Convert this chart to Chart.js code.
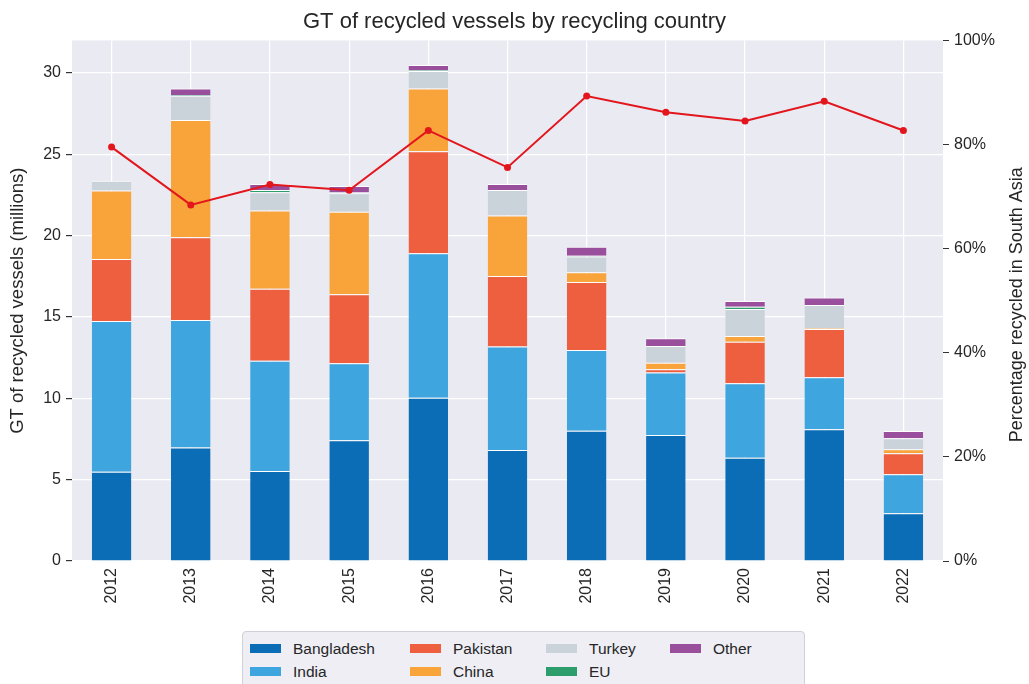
<!DOCTYPE html>
<html>
<head>
<meta charset="utf-8">
<script src="https://cdn.jsdelivr.net/npm/chart.js@4.4.1/dist/chart.umd.min.js"></script>
<style>
  body { margin: 0; background: #fff; font-family: "Liberation Sans", Arial, sans-serif; }
  #wrap { position: relative; width: 1029px; height: 684px; overflow: hidden; }
  #legend {
    position: absolute; left: 242px; top: 631px; width: 563px; height: 62px;
    background: #eeeef4; border: 1px solid #d0d0d8; border-radius: 4px;
    display: grid; grid-template-rows: 23px 23px; grid-auto-flow: column;
    grid-template-columns: 160px 136px 124px 120px; padding: 5px 0 0 7px; box-sizing: border-box;
  }
  .item { display: flex; align-items: center; font-size: 15.5px; color: #262626; }
  .sw { width: 31px; height: 9px; margin-right: 12px; }
</style>
</head>
<body>
<div id="wrap">
  <canvas id="chart" width="1029" height="684"></canvas>
  <div id="legend"></div>
</div>
<script>
const years = ['2012', '2013', '2014', '2015', '2016', '2017', '2018', '2019', '2020', '2021', '2022'];

// GT recycled, millions
const bangladesh = [5.49, 6.97, 5.53, 7.42, 10.04, 6.82, 8.01, 7.75, 6.35, 8.10, 2.93];
const india      = [9.26, 7.84, 6.78, 4.73, 8.87, 6.36, 4.96, 3.83, 4.57, 3.19, 2.40];
const pakistan   = [3.81, 5.09, 4.43, 4.24, 6.28, 4.34, 4.18, 0.20, 2.56, 2.97, 1.29];
const china      = [4.21, 7.21, 4.80, 5.08, 3.85, 3.71, 0.60, 0.41, 0.35, 0.05, 0.25];
const turkey     = [0.61, 1.49, 1.12, 1.13, 1.08, 1.58, 0.96, 1.03, 1.66, 1.43, 0.67];
const eu         = [0.00, 0.05, 0.14, 0.05, 0.05, 0.00, 0.05, 0.00, 0.14, 0.00, 0.00];
const other      = [0.00, 0.40, 0.37, 0.40, 0.32, 0.36, 0.56, 0.47, 0.35, 0.45, 0.45];

// share recycled in South Asia, %
const southAsiaPct = [79.5, 68.4, 72.3, 71.2, 82.7, 75.6, 89.3, 86.2, 84.5, 88.3, 82.7];

const leftTicks = [0, 5, 10, 15, 20, 25, 30];

const series = [
  { label: 'Bangladesh', data: bangladesh, color: '#0a6db5' },
  { label: 'India', data: india, color: '#3fa5de' },
  { label: 'Pakistan', data: pakistan, color: '#ee5f40' },
  { label: 'China', data: china, color: '#f9a43a' },
  { label: 'Turkey', data: turkey, color: '#cbd3da' },
  { label: 'EU', data: eu, color: '#2e9d6c' },
  { label: 'Other', data: other, color: '#9a4f9c' }
];

const textColor = '#262626';
const fontFamily = '"Liberation Sans", Arial, sans-serif';

const barSets = series.map(s => ({
  type: 'bar',
  label: s.label,
  data: s.data,
  backgroundColor: s.color,
  borderColor: '#ffffff',
  borderWidth: { top: 1, bottom: 0, left: 0, right: 0 },
  borderSkipped: false,
  barPercentage: 0.5,
  categoryPercentage: 1.0,
  yAxisID: 'y',
  order: 1
}));

const lineSet = {
  type: 'line',
  label: 'South Asia %',
  data: southAsiaPct,
  borderColor: '#e2161c',
  backgroundColor: '#e2161c',
  borderWidth: 2,
  pointRadius: 3.5,
  pointBorderWidth: 0,
  tension: 0,
  yAxisID: 'y2',
  order: 0
};

// plot background + right axis title drawn the matplotlib way (bottom to top)
const plotBg = {
  id: 'plotBg',
  beforeDraw(chart) {
    const { ctx, chartArea: a } = chart;
    ctx.save();
    ctx.fillStyle = '#eaeaf2';
    ctx.fillRect(a.left, a.top, a.right - a.left, a.bottom - a.top);
    ctx.restore();
  },
  afterDraw(chart) {
    const { ctx, chartArea: a } = chart;
    ctx.save();
    ctx.translate(1017, (a.top + a.bottom) / 2 + 4);
    ctx.rotate(-Math.PI / 2);
    ctx.font = '18px ' + fontFamily;
    ctx.fillStyle = textColor;
    ctx.textAlign = 'center';
    ctx.textBaseline = 'middle';
    ctx.fillText('Percentage recycled in South Asia', 0, 0);
    ctx.restore();
  }
};

new Chart(document.getElementById('chart'), {
  data: { labels: years, datasets: [...barSets, lineSet] },
  plugins: [plotBg],
  options: {
    responsive: false,
    animation: false,
    layout: { padding: { bottom: 63 } },
    plugins: {
      legend: { display: false },
      tooltip: { enabled: false },
      title: {
        display: true,
        text: 'GT of recycled vessels by recycling country',
        color: textColor,
        font: { family: fontFamily, size: 22, weight: 'normal' },
        padding: { top: 9, bottom: 5 }
      }
    },
    scales: {
      x: {
        stacked: true,
        grid: { color: '#ffffff', lineWidth: 1.2, offset: false, drawTicks: true, tickLength: 5, tickColor: '#ffffff' },
        border: { display: false },
        ticks: {
          color: textColor, font: { family: fontFamily, size: 16 },
          minRotation: 90, maxRotation: 90, padding: 2
        },
        afterFit(scale) { scale.height = 60; }
      },
      y: {
        stacked: true,
        position: 'left',
        min: 0,
        max: 32,
        ticks: { stepSize: 5, color: textColor, font: { family: fontFamily, size: 16 }, padding: 5 },
        afterBuildTicks(scale) {
          scale.ticks = leftTicks.map(v => ({ value: v }));
        },
        grid: { color: '#ffffff', lineWidth: 1.2, tickColor: '#333333', tickLength: 6 },
        border: { display: false },
        title: {
          display: true,
          text: 'GT of recycled vessels (millions)',
          color: textColor,
          font: { family: fontFamily, size: 18.5 },
          padding: { top: 7, bottom: 0 }
        },
        afterFit(scale) { scale.width = 72; }
      },
      y2: {
        position: 'right',
        min: 0,
        max: 100,
        ticks: {
          stepSize: 20, color: textColor, font: { family: fontFamily, size: 16 }, padding: 5,
          callback: v => v + '%'
        },
        grid: { drawOnChartArea: false, tickColor: '#333333', tickLength: 6 },
        border: { display: false },
        afterFit(scale) { scale.width = 86; }
      }
    }
  }
});

// legend laid out column by column like the original
const legendEl = document.getElementById('legend');
series.forEach(s => {
  const item = document.createElement('div');
  item.className = 'item';
  const sw = document.createElement('span');
  sw.className = 'sw';
  sw.style.background = s.color;
  item.appendChild(sw);
  item.appendChild(document.createTextNode(s.label));
  legendEl.appendChild(item);
});
</script>
</body>
</html>
